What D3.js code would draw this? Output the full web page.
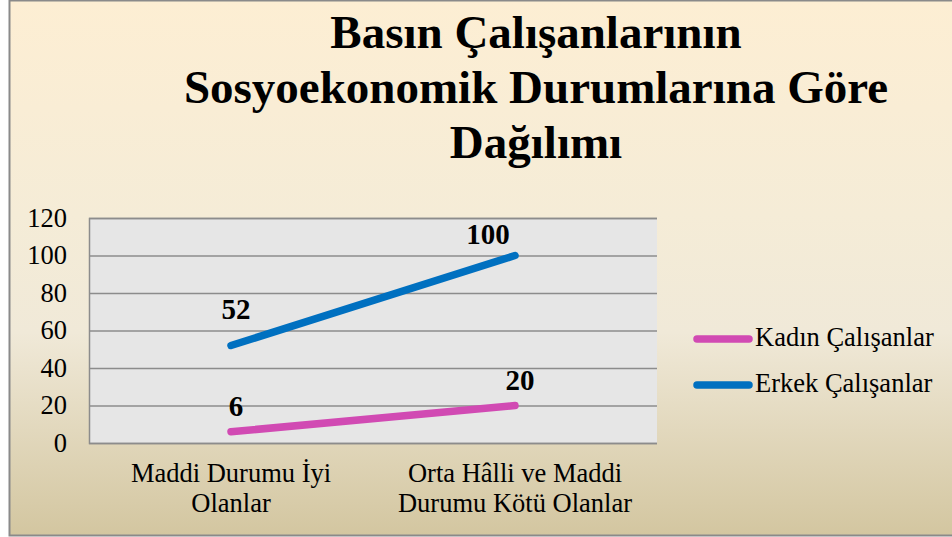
<!DOCTYPE html>
<html>
<head>
<meta charset="utf-8">
<script src="https://cdn.jsdelivr.net/npm/d3@7"></script>
<style>
  html, body { margin: 0; padding: 0; background: #fff; }
  svg { display: block; font-family: 'Liberation Serif', 'Times New Roman', serif; }
</style>
</head>
<body>
<div id="chart"></div>
<script>
const titleLines = ['Basın Çalışanlarının', 'Sosyoekonomik Durumlarına Göre', 'Dağılımı']
const categories = ['Maddi Durumu İyi|Olanlar', 'Orta Hâlli ve Maddi|Durumu Kötü Olanlar']
const seriesNames = ['Kadın Çalışanlar', 'Erkek Çalışanlar']
const kadinValues = [6, 20]
const erkekValues = [52, 100]
const yTicks = [0, 20, 40, 60, 80, 100, 120]
const seriesColors = ['#d14ab3', '#0070c0']

const width = 952, height = 537
const plot = { left: 89, right: 657, top: 218, bottom: 443 }
const fontFamily = "'Liberation Serif', 'Times New Roman', serif"

const svg = d3.select('#chart').append('svg')
  .attr('width', width)
  .attr('height', height)

// 배경 그라데이션
const grad = svg.append('defs').append('linearGradient')
  .attr('id', 'bg').attr('x1', 0).attr('y1', 0).attr('x2', 0).attr('y2', 1)
grad.append('stop').attr('offset', '0%').attr('stop-color', '#fdeed3')
grad.append('stop').attr('offset', '40%').attr('stop-color', '#f5ecd7')
grad.append('stop').attr('offset', '62%').attr('stop-color', '#f0e9d8')
grad.append('stop').attr('offset', '100%').attr('stop-color', '#d3c6a0')

svg.append('rect')
  .attr('x', 9.5).attr('y', 0.5)
  .attr('width', width + 10).attr('height', 535)
  .attr('fill', 'url(#bg)')
  .attr('stroke', '#8a8a8a')
  .attr('stroke-width', 2)

// 제목
svg.append('g').selectAll('text')
  .data(titleLines)
  .join('text')
  .attr('x', 536)
  .attr('y', (d, i) => 48 + i * 55)
  .attr('text-anchor', 'middle')
  .attr('font-family', fontFamily)
  .attr('font-size', '47px')
  .attr('font-weight', 'bold')
  .attr('fill', '#000')
  .text(d => d)

const x = d3.scaleBand().domain(categories).range([plot.left, plot.right])
const y = d3.scaleLinear().domain([0, 120]).range([plot.bottom, plot.top])

// 플롯 영역
svg.append('rect')
  .attr('x', plot.left).attr('y', plot.top)
  .attr('width', plot.right - plot.left).attr('height', plot.bottom - plot.top)
  .attr('fill', '#e6e6e6')

// 그리드 + y축
const yAxis = svg.append('g')
  .attr('transform', `translate(${plot.left},0)`)
  .call(d3.axisLeft(y).tickValues(yTicks).tickSize(-(plot.right - plot.left)).tickPadding(22))
yAxis.select('.domain').attr('stroke', '#8c8c8c').attr('stroke-width', 1.5)
yAxis.selectAll('.tick line').attr('stroke', '#8c8c8c').attr('stroke-width', 1.5)
yAxis.selectAll('.tick text')
  .attr('font-family', fontFamily)
  .attr('font-size', '26.5px')
  .attr('fill', '#000')

// x축 레이블
const xLabels = svg.append('g')
categories.forEach(c => {
  const t = xLabels.append('text')
    .attr('text-anchor', 'middle')
    .attr('font-family', fontFamily)
    .attr('font-size', '26.5px')
    .attr('fill', '#000')
  c.split('|').forEach((line, i) => {
    t.append('tspan')
      .attr('x', x(c) + x.bandwidth() / 2)
      .attr('y', 482 + i * 30)
      .text(line)
  })
})

const series = [
  { name: seriesNames[0], values: kadinValues, color: seriesColors[0] },
  { name: seriesNames[1], values: erkekValues, color: seriesColors[1] }
]

const line = d3.line()
  .x((d, i) => x(categories[i]) + x.bandwidth() / 2)
  .y(d => y(d))

svg.append('g').selectAll('path')
  .data(series)
  .join('path')
  .attr('d', d => line(d.values))
  .attr('fill', 'none')
  .attr('stroke', d => d.color)
  .attr('stroke-width', 7.5)
  .attr('stroke-linecap', 'round')

// 데이터 레이블
const labelGroup = svg.append('g')
series.forEach(s => {
  s.values.forEach((v, i) => {
    const cx = x(categories[i]) + x.bandwidth() / 2
    const topLabel = y(v) - 16 < plot.top + 25
    labelGroup.append('text')
      .attr('x', topLabel ? cx - 27 : cx + 5)
      .attr('y', topLabel ? y(v) - 12 : y(v) - (v > 40 ? 27 : 16))
      .attr('text-anchor', 'middle')
      .attr('font-family', fontFamily)
      .attr('font-size', '29px')
      .attr('font-weight', 'bold')
      .attr('fill', '#000')
      .text(v)
  })
})

// 범례
const legend = svg.append('g')
series.forEach((s, i) => {
  const ly = 339 + i * 46
  legend.append('line')
    .attr('x1', 697).attr('x2', 749)
    .attr('y1', ly).attr('y2', ly)
    .attr('stroke', s.color)
    .attr('stroke-width', 7.5)
    .attr('stroke-linecap', 'round')
  legend.append('text')
    .attr('x', 755)
    .attr('y', ly + 7)
    .attr('font-family', fontFamily)
    .attr('font-size', '26.5px')
    .attr('fill', '#000')
    .text(s.name)
})
</script>
</body>
</html>
